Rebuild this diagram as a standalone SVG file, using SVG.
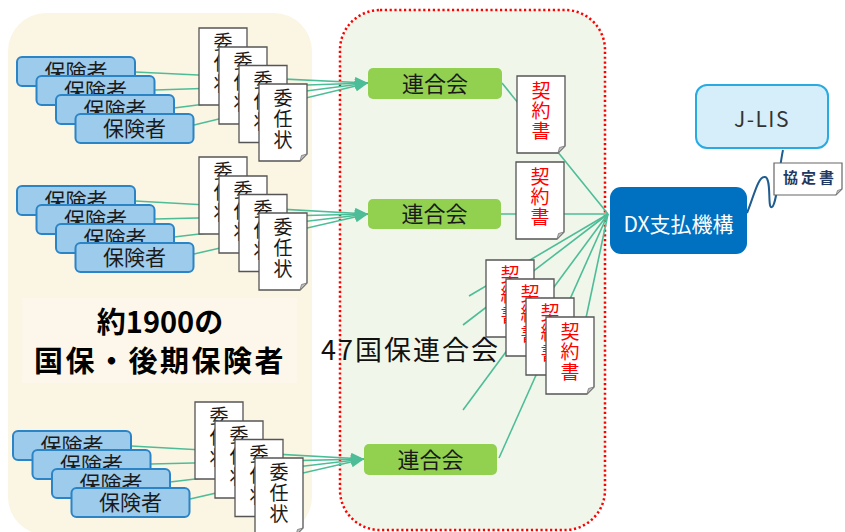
<svg xmlns="http://www.w3.org/2000/svg" xmlns:xlink="http://www.w3.org/1999/xlink" width="845" height="532" viewBox="0 0 845 532">
<style>
  .jp { font-family: "Noto Sans CJK JP", "Noto Sans", sans-serif; }
  .ins rect { fill: #9DCBEC; stroke: #2B84C6; stroke-width: 2; }
  .ins text { font-size: 21px; fill: #1a1a1a; text-anchor: middle; }
  .doc text { font-size: 19px; text-anchor: middle; }
  .mandate text { fill: #1a1a1a; }
  .contract text { fill: #FF0000; }
  .ren rect { fill: #92D050; }
  .ren text { font-size: 22px; fill: #1a1a1a; text-anchor: middle; }
  .conn line { stroke: #4DBD98; stroke-width: 1.6; fill: none; }
  .arr { marker-end: url(#ah); }
</style>
<defs>
  <marker id="ah" markerUnits="userSpaceOnUse" markerWidth="13" markerHeight="11" refX="13" refY="5.5" orient="auto">
    <path d="M0,0 L13,5.5 L0,11 z" fill="#4DBD98"/>
  </marker>
  <g id="docBody">
    <path d="M0,0 H48 V70 L41,77 H0 Z" fill="#FFFFFF" stroke="#555555" stroke-width="1.3"/>
    <path d="M41,77 L48,70 L42.5,71.5 Z" fill="#BDBDBD" stroke="#777777" stroke-width="0.8"/>
  </g>
</defs>

<!-- panels -->
<rect id="insurer-panel" x="8" y="13" width="304" height="522" rx="38" fill="#FBF5E3"/>
<rect id="rengokai-panel" x="340" y="10" width="265" height="520" rx="40" fill="#F1F6EA" stroke="#FF0000" stroke-width="2.5" stroke-dasharray="2.2 2.6"/>

<g id="label-1900" class="jp">
  <rect x="22" y="298" width="275" height="85" fill="#FCF7EA"/>
  <text x="160" y="333" font-size="29" font-weight="bold" text-anchor="middle" fill="#000">約1900の</text>
  <text x="160" y="372" font-size="29" font-weight="bold" text-anchor="middle" letter-spacing="2.5" fill="#000">国保・後期保険者</text>
</g>

<g id="label-47" class="jp">
  <text x="321" y="360" font-size="27" letter-spacing="2" fill="#111">47国保連合会</text>
</g>

<!-- connectors -->
<g id="connectors" class="conn">
  <line class="arr" x1="135" y1="72" x2="368" y2="83"/>
  <line class="arr" x1="155" y1="90" x2="368" y2="83"/>
  <line class="arr" x1="174" y1="108" x2="368" y2="83"/>
  <line class="arr" x1="194" y1="125" x2="368" y2="83"/>

  <line class="arr" x1="135" y1="201" x2="368" y2="214"/>
  <line class="arr" x1="155" y1="219" x2="368" y2="214"/>
  <line class="arr" x1="174" y1="237" x2="368" y2="214"/>
  <line class="arr" x1="194" y1="254" x2="368" y2="214"/>

  <line class="arr" x1="131" y1="446" x2="364" y2="459"/>
  <line class="arr" x1="151" y1="464" x2="364" y2="459"/>
  <line class="arr" x1="170" y1="482" x2="364" y2="459"/>
  <line class="arr" x1="190" y1="499" x2="364" y2="459"/>

  <line x1="502" y1="83" x2="608" y2="214"/>
  <line x1="501" y1="214" x2="608" y2="214"/>
  <line x1="608" y1="214" x2="469" y2="296"/>
  <line x1="608" y1="214" x2="463" y2="325"/>
  <line x1="608" y1="214" x2="463" y2="410"/>
  <line x1="608" y1="214" x2="499" y2="458"/>
  <line x1="608" y1="214" x2="575" y2="370"/>

  <path d="M747,213 C754,196 758,176 765,177 C772,178 767,210 772,207 C777,204 779,168 783,150" fill="none" stroke="#1F5C8F" stroke-width="2"/>
</g>

<!-- insurer group 1 -->
<g id="ins-1a" class="ins jp"><rect x="17" y="57" width="118" height="29" rx="5"/><text x="76" y="79">保険者</text></g>
<g id="ins-1b" class="ins jp"><rect x="36.5" y="76" width="118" height="29" rx="5"/><text x="95.5" y="98">保険者</text></g>
<g id="ins-1c" class="ins jp"><rect x="56" y="95" width="118" height="29" rx="5"/><text x="115" y="117">保険者</text></g>
<g id="ins-1d" class="ins jp"><rect x="75.5" y="114" width="118" height="29" rx="5"/><text x="134.5" y="136">保険者</text></g>

<!-- insurer group 2 -->
<g id="ins-2a" class="ins jp"><rect x="17" y="186" width="118" height="29" rx="5"/><text x="76" y="208">保険者</text></g>
<g id="ins-2b" class="ins jp"><rect x="36.5" y="205" width="118" height="29" rx="5"/><text x="95.5" y="227">保険者</text></g>
<g id="ins-2c" class="ins jp"><rect x="56" y="224" width="118" height="29" rx="5"/><text x="115" y="246">保険者</text></g>
<g id="ins-2d" class="ins jp"><rect x="75.5" y="243" width="118" height="29" rx="5"/><text x="134.5" y="265">保険者</text></g>

<!-- insurer group 3 -->
<g id="ins-3a" class="ins jp"><rect x="13" y="431" width="118" height="29" rx="5"/><text x="72" y="453">保険者</text></g>
<g id="ins-3b" class="ins jp"><rect x="32.5" y="450" width="118" height="29" rx="5"/><text x="91.5" y="472">保険者</text></g>
<g id="ins-3c" class="ins jp"><rect x="52" y="469" width="118" height="29" rx="5"/><text x="111" y="491">保険者</text></g>
<g id="ins-3d" class="ins jp"><rect x="71.5" y="488" width="118" height="29" rx="5"/><text x="130.5" y="510">保険者</text></g>

<!-- mandate documents group 1 -->
<g id="man-1a" class="doc mandate jp" transform="translate(199,28)"><use xlink:href="#docBody"/><text x="24" y="21">委</text><text x="24" y="42">任</text><text x="24" y="63">状</text></g>
<g id="man-1b" class="doc mandate jp" transform="translate(219,47)"><use xlink:href="#docBody"/><text x="24" y="21">委</text><text x="24" y="42">任</text><text x="24" y="63">状</text></g>
<g id="man-1c" class="doc mandate jp" transform="translate(239,65.5)"><use xlink:href="#docBody"/><text x="24" y="21">委</text><text x="24" y="42">任</text><text x="24" y="63">状</text></g>
<g id="man-1d" class="doc mandate jp" transform="translate(259,84)"><use xlink:href="#docBody"/><text x="24" y="21">委</text><text x="24" y="42">任</text><text x="24" y="63">状</text></g>

<!-- mandate documents group 2 -->
<g id="man-2a" class="doc mandate jp" transform="translate(199,157)"><use xlink:href="#docBody"/><text x="24" y="21">委</text><text x="24" y="42">任</text><text x="24" y="63">状</text></g>
<g id="man-2b" class="doc mandate jp" transform="translate(219,176)"><use xlink:href="#docBody"/><text x="24" y="21">委</text><text x="24" y="42">任</text><text x="24" y="63">状</text></g>
<g id="man-2c" class="doc mandate jp" transform="translate(239,194.5)"><use xlink:href="#docBody"/><text x="24" y="21">委</text><text x="24" y="42">任</text><text x="24" y="63">状</text></g>
<g id="man-2d" class="doc mandate jp" transform="translate(259,213)"><use xlink:href="#docBody"/><text x="24" y="21">委</text><text x="24" y="42">任</text><text x="24" y="63">状</text></g>

<!-- mandate documents group 3 -->
<g id="man-3a" class="doc mandate jp" transform="translate(195,402)"><use xlink:href="#docBody"/><text x="24" y="21">委</text><text x="24" y="42">任</text><text x="24" y="63">状</text></g>
<g id="man-3b" class="doc mandate jp" transform="translate(215,421)"><use xlink:href="#docBody"/><text x="24" y="21">委</text><text x="24" y="42">任</text><text x="24" y="63">状</text></g>
<g id="man-3c" class="doc mandate jp" transform="translate(235,439.5)"><use xlink:href="#docBody"/><text x="24" y="21">委</text><text x="24" y="42">任</text><text x="24" y="63">状</text></g>
<g id="man-3d" class="doc mandate jp" transform="translate(255,458)"><use xlink:href="#docBody"/><text x="24" y="21">委</text><text x="24" y="42">任</text><text x="24" y="63">状</text></g>

<!-- rengokai nodes -->
<g id="ren-a" class="ren jp"><rect x="368" y="68" width="134" height="31" rx="5"/><text x="435" y="92">連合会</text></g>
<g id="ren-b" class="ren jp"><rect x="368" y="199" width="133" height="30" rx="5"/><text x="434.5" y="222">連合会</text></g>
<g id="ren-c" class="ren jp"><rect x="364" y="444" width="133" height="31" rx="5"/><text x="430.5" y="468">連合会</text></g>

<!-- contract documents -->
<g id="con-1" class="doc contract jp" transform="translate(517,76)"><use xlink:href="#docBody"/><text x="24" y="22">契</text><text x="24" y="42">約</text><text x="24" y="62">書</text></g>
<g id="con-2" class="doc contract jp" transform="translate(516,162)"><use xlink:href="#docBody"/><text x="24" y="22">契</text><text x="24" y="42">約</text><text x="24" y="62">書</text></g>
<g id="con-3" class="doc contract jp" transform="translate(486,260)"><use xlink:href="#docBody"/><text x="24" y="22">契</text><text x="24" y="42">約</text><text x="24" y="62">書</text></g>
<g id="con-4" class="doc contract jp" transform="translate(506,279)"><use xlink:href="#docBody"/><text x="24" y="22">契</text><text x="24" y="42">約</text><text x="24" y="62">書</text></g>
<g id="con-5" class="doc contract jp" transform="translate(526,298)"><use xlink:href="#docBody"/><text x="24" y="22">契</text><text x="24" y="42">約</text><text x="24" y="62">書</text></g>
<g id="con-6" class="doc contract jp" transform="translate(546,317)"><use xlink:href="#docBody"/><text x="24" y="22">契</text><text x="24" y="42">約</text><text x="24" y="62">書</text></g>

<!-- DX -->
<g id="dx" class="jp">
  <rect x="610" y="187" width="137" height="67" rx="11" fill="#0070C0"/>
  <text x="678.5" y="232" font-size="21" fill="#FFFFFF" text-anchor="middle">DX支払機構</text>
</g>

<!-- J-LIS -->
<g id="jlis" class="jp">
  <rect x="696" y="85" width="132" height="63" rx="11" fill="#D5EEF9" stroke="#29ABE2" stroke-width="2"/>
  <text x="762" y="127" font-size="21" fill="#333333" text-anchor="middle" letter-spacing="1.5">J-LIS</text>
</g>

<!-- agreement label -->
<g id="kyoteisho" class="jp">
  <path d="M774,163 H842 V189 L836,195 H774 Z" fill="#FFFFFF" stroke="#666666" stroke-width="1.2"/>
  <path d="M836,195 L842,189 L837.5,190.5 Z" fill="#BDBDBD" stroke="#777777" stroke-width="0.7"/>
  <text x="810" y="183" font-size="15" font-weight="bold" fill="#1F3864" text-anchor="middle" letter-spacing="3">協定書</text>
</g>
</svg>
